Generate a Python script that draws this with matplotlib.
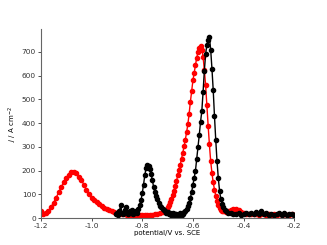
import matplotlib
matplotlib.use("Agg")
import matplotlib.pyplot as plt

plt.rcParams['axes.unicode_minus'] = False

# red curve: potential (V vs. SCE) and current density
red_v = [-1.20, -1.195, -1.19, -1.18, -1.17, -1.16, -1.15, -1.14, -1.13, -1.12,
         -1.11, -1.10, -1.09, -1.08, -1.07, -1.06, -1.05, -1.04, -1.03, -1.02,
         -1.01, -1.00, -0.99, -0.98, -0.97, -0.96, -0.95, -0.94, -0.93, -0.92,
         -0.91, -0.90, -0.89, -0.88, -0.87, -0.86, -0.85, -0.84, -0.83, -0.82,
         -0.81, -0.80, -0.79, -0.78, -0.77, -0.76, -0.75, -0.74, -0.73, -0.72,
         -0.71, -0.70, -0.695, -0.69, -0.685, -0.68, -0.675, -0.67, -0.665, -0.66,
         -0.655, -0.65, -0.645, -0.64, -0.635, -0.63, -0.625, -0.62, -0.615, -0.61,
         -0.605, -0.60, -0.595, -0.59, -0.585, -0.58, -0.575, -0.57, -0.565, -0.56,
         -0.555, -0.55, -0.545, -0.54, -0.535, -0.53, -0.525, -0.52, -0.515, -0.51,
         -0.505, -0.50, -0.495, -0.49, -0.485, -0.48, -0.47, -0.46, -0.45, -0.44,
         -0.43, -0.42, -0.41, -0.40, -0.39, -0.38, -0.37, -0.36, -0.35, -0.34,
         -0.33, -0.32, -0.31, -0.30, -0.29, -0.28, -0.27, -0.26, -0.25, -0.24,
         -0.23, -0.22, -0.21, -0.20]
red_j = [28, 20, 17, 20, 30, 45, 65, 85, 108, 130,
         150, 168, 182, 192, 195, 188, 175, 160, 140, 118,
         100, 85, 75, 66, 58, 50, 44, 39, 35, 30,
         26, 22, 19, 17, 15, 14, 13, 12, 12, 11,
         11, 11, 11, 11, 12, 13, 15, 17, 21, 26,
         34, 45, 55, 68, 82, 98, 115, 135, 155, 180,
         202, 225, 250, 275, 302, 330, 362, 395, 440, 490,
         535, 580, 612, 645, 675, 700, 718, 727, 710, 680,
         625, 560, 475, 390, 310, 240, 190, 150, 120, 95,
         72, 55, 44, 36, 31, 28, 26, 30, 34, 37,
         38, 32, 25, 20, 18, 16, 17, 15, 16, 14,
         15, 16, 14, 15, 13, 15, 14, 16, 13, 15,
         14, 13, 15, 14]

# black curve
black_v = [-0.905, -0.90, -0.895, -0.89, -0.885, -0.88, -0.875, -0.87, -0.865, -0.86,
           -0.855, -0.85, -0.845, -0.84, -0.835, -0.83, -0.825, -0.82, -0.815, -0.81,
           -0.805, -0.80, -0.795, -0.79, -0.785, -0.78, -0.775, -0.77, -0.765, -0.76,
           -0.755, -0.75, -0.745, -0.74, -0.735, -0.73, -0.725, -0.72, -0.715, -0.71,
           -0.705, -0.70, -0.695, -0.69, -0.685, -0.68, -0.675, -0.67, -0.665, -0.66,
           -0.655, -0.65, -0.645, -0.64, -0.635, -0.63, -0.625, -0.62, -0.615, -0.61,
           -0.605, -0.60, -0.595, -0.59, -0.585, -0.58, -0.575, -0.57, -0.565, -0.56,
           -0.555, -0.55, -0.545, -0.54, -0.535, -0.53, -0.525, -0.52, -0.515, -0.51,
           -0.505, -0.50, -0.495, -0.49, -0.485, -0.48, -0.475, -0.47, -0.46, -0.45,
           -0.44, -0.43, -0.42, -0.41, -0.40, -0.39, -0.38, -0.37, -0.36, -0.35,
           -0.34, -0.33, -0.32, -0.31, -0.30, -0.29, -0.28, -0.27, -0.26, -0.25,
           -0.24, -0.23, -0.22, -0.21, -0.20]
black_j = [15, 20, 12, 30, 55, 20, 15, 35, 45, 25,
           15, 30, 20, 35, 15, 25, 30, 20, 40, 55,
           75, 104, 140, 180, 210, 225, 218, 205, 185, 160,
           130, 110, 95, 80, 65, 52, 45, 38, 34, 28,
           22, 25, 18, 20, 14, 22, 12, 15, 18, 10,
           14, 20, 12, 18, 25, 30, 40, 50, 63, 85,
           110, 140, 170, 200, 250, 300, 350, 405, 450, 530,
           620, 690, 730, 750, 762, 710, 630, 540, 430, 330,
           240, 170, 115, 80, 60, 45, 35, 28, 22, 20,
           18, 15, 20, 14, 18, 22, 15, 20, 16, 25,
           18, 30, 15, 20, 14, 18, 12, 16, 20, 14,
           22, 12, 15, 18, 12]

fig, ax = plt.subplots(figsize=(3.27, 2.45), dpi=100)

ax.plot(red_v, red_j, color='red', marker='o', markersize=3, linewidth=1)
ax.plot(black_v, black_j, color='black', marker='o', markersize=3, linewidth=1)

ax.set_xlim(-1.2, -0.2)
ax.set_ylim(0, 795)
ax.set_xticks([-1.2, -1.0, -0.8, -0.6, -0.4, -0.2])
ax.set_yticks([0, 100, 200, 300, 400, 500, 600, 700])
ax.set_xlabel('potential/V vs. SCE', fontsize=5, labelpad=1)
ax.set_ylabel(r'$j$ / A cm$^{-2}$', fontsize=5, labelpad=2)
ax.tick_params(labelsize=5.3, length=2, width=0.6, pad=1.5, colors='#333333')

ax.spines['top'].set_visible(False)
ax.spines['right'].set_visible(False)
for s in ['left', 'bottom']:
    ax.spines[s].set_color('#666666')
    ax.spines[s].set_linewidth(0.8)

plt.savefig('out.png', dpi=100)
